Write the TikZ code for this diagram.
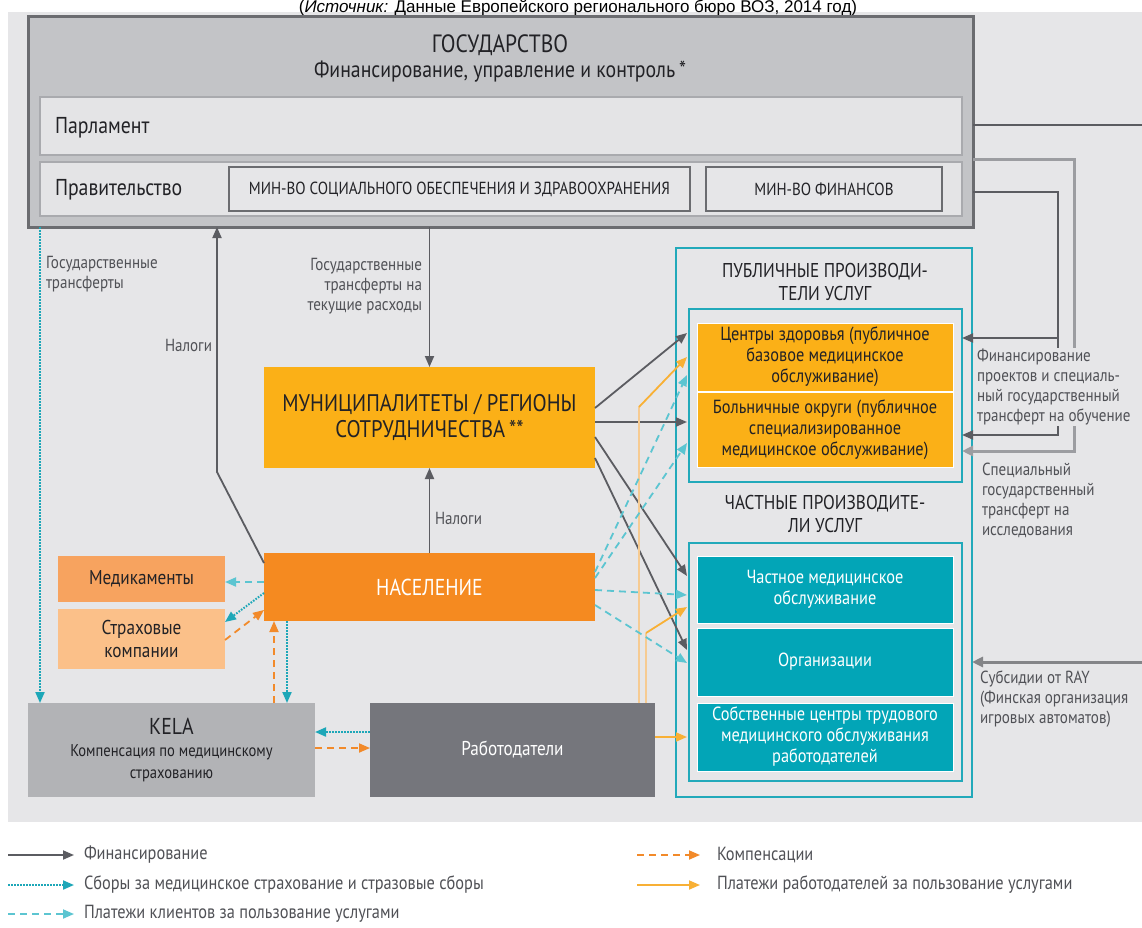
\documentclass[tikz,border=0pt]{standalone}
\usepackage{fontspec}
\setmainfont[FakeStretch=0.86]{PT Sans}
\newfontfamily\srcfont{Liberation Sans}
\usetikzlibrary{arrows.meta}

\definecolor{bggray}{HTML}{E6E6E8}
\definecolor{stfill}{HTML}{C3C4C7}
\definecolor{stline}{HTML}{6B6C70}
\definecolor{infill}{HTML}{E4E4E6}
\definecolor{inline}{HTML}{A9AAAE}
\definecolor{gold}{HTML}{FBB017}
\definecolor{popor}{HTML}{F58A20}
\definecolor{medor}{HTML}{F7A35F}
\definecolor{insor}{HTML}{FBC089}
\definecolor{kelagray}{HTML}{B2B3B6}
\definecolor{empgray}{HTML}{75767C}
\definecolor{tealbox}{HTML}{02A5B7}
\definecolor{tealline}{HTML}{22A9BA}
\definecolor{fincol}{HTML}{5B5C61}
\definecolor{feecol}{HTML}{1DA7B8}
\definecolor{clicol}{HTML}{5CC5D1}
\definecolor{compcol}{HTML}{F28A2A}
\definecolor{empcol}{HTML}{F8B035}
\definecolor{emppale}{HTML}{F6CB92}
\definecolor{txtcol}{HTML}{222226}
\definecolor{lblcol}{HTML}{505156}
\definecolor{sidegray}{HTML}{9C9DA1}

\newcommand\setsz[2]{\fontsize{#1}{#2}\selectfont}

\begin{document}
\begin{tikzpicture}[x=1pt,y=-1pt,
  every node/.style={inner sep=0pt,outer sep=0pt,text=txtcol,font=\setsz{19}{21}},
  blk/.style={anchor=north west,align=center,fill=#1},
  pbox/.style={blk=#1,minimum width=256pt,draw=white,line width=0.8pt},
  stbox/.style={anchor=north west,draw=stline,line width=3pt,fill=stfill},
  inbox/.style={anchor=north west,draw=inline,line width=2pt,fill=infill},
  minbox/.style={anchor=north west,draw=stline,line width=1.2pt,fill=bggray,font=\setsz{17.5}{19}},
  tealframe/.style={anchor=north west,draw=tealline,line width=1.6pt},
  hdtxt/.style={align=center,font=\setsz{20}{23}},
  bigtxt/.style={font=\setsz{23}{26}},
  lbl/.style={text=lblcol,font=\setsz{17.5}{20}},
  lgd/.style={anchor=west,text=lblcol,font=\setsz{19}{20}},
  arrowhd/.style={-{Triangle[length=11pt,width=9pt]}},
  fin/.style={draw=fincol,line width=1.8pt,arrowhd},
  fee/.style={draw=feecol,line width=2pt,dash pattern=on 1.6pt off 1.4pt,arrowhd},
  cli/.style={draw=clicol,line width=1.8pt,dash pattern=on 7pt off 5pt,arrowhd},
  comp/.style={draw=compcol,line width=1.8pt,dash pattern=on 7pt off 5pt,arrowhd},
  emp/.style={draw=empcol,line width=1.8pt,arrowhd},
  sideln/.style={draw=sidegray,line width=3pt,-{Triangle[length=11pt,width=10pt]}},
]
\useasboundingbox (0,0) rectangle (1142,928);
\fill[white] (0,0) rectangle (1142,928);
\fill[bggray] (8,12) rectangle (1142,822);
\node[anchor=base,text=black,font=\srcfont\setsz{17}{18}] (srcline) at (578,13)
  {(\textit{Источник:} Данные Европейского регионального бюро ВОЗ, 2014 год)};

% state
\node[stbox,minimum width=945pt,minimum height=210pt] (state) at (28,17) {};
\node[align=center,font=\setsz{23}{25}] (stttl) at (500,58)
  {{\setsz{25}{25}ГОСУДАРСТВО}\\Финансирование, управление и контроль\,*};
\node[inbox,minimum width=922pt,minimum height=58pt] (parl) at (40,97) {};
\node[bigtxt,anchor=west] (parltxt) at (55,128) {Парламент};
\node[inbox,minimum width=922pt,minimum height=54pt] (gov) at (40,162) {};
\node[bigtxt,anchor=west] (govtxt) at (55,190) {Правительство};
\node[minbox,minimum width=461pt,minimum height=44pt] (minsoc) at (229,167)
  {МИН-ВО СОЦИАЛЬНОГО ОБЕСПЕЧЕНИЯ И ЗДРАВООХРАНЕНИЯ};
\node[minbox,minimum width=236pt,minimum height=44pt] (minfin) at (706,167) {МИН-ВО ФИНАНСОВ};

% payers
\node[blk=gold,minimum width=331pt,minimum height=101pt,font=\setsz{24}{26}] (muni) at (264,367)
  {МУНИЦИПАЛИТЕТЫ / РЕГИОНЫ\\СОТРУДНИЧЕСТВА\,**};
\node[blk=popor,text=white,minimum width=331pt,minimum height=68pt,font=\setsz{23}{25}] (pop) at (264,553) {НАСЕЛЕНИЕ};
\node[blk=medor,minimum width=167pt,minimum height=46pt,font=\setsz{20}{22}] (meds) at (58,556) {Медикаменты};
\node[blk=insor,minimum width=167pt,minimum height=60pt,font=\setsz{20}{23}] (ins) at (58,609) {Страховые\\компании};
\node[blk=kelagray,minimum width=287pt,minimum height=94pt,font=\setsz{17}{22}] (kela) at (28,703)
  {{\setsz{23}{22}KELA}\\Компенсация по медицинскому\\страхованию};
\node[blk=empgray,text=white,minimum width=285pt,minimum height=94pt,font=\setsz{20}{22}] (empl) at (370,703) {Работодатели};

% providers
\node[tealframe,minimum width=296pt,minimum height=549pt] (provout) at (676,248) {};
\node[hdtxt] (pubttl) at (825,282) {ПУБЛИЧНЫЕ ПРОИЗВОДИ-\\ТЕЛИ УСЛУГ};
\node[tealframe,minimum width=273pt,minimum height=173pt] (pubin) at (689,309) {};
\node[pbox=gold,minimum height=68pt] (hc) at (697,323)
  {Центры здоровья (публичное\\базовое медицинское\\обслуживание)};
\node[pbox=gold,minimum height=75pt] (hd) at (697,392)
  {Больничные округи (публичное\\специализированное\\медицинское обслуживание)};
\node[hdtxt] (privttl) at (825,514) {ЧАСТНЫЕ ПРОИЗВОДИТЕ-\\ЛИ УСЛУГ};
\node[tealframe,minimum width=273pt,minimum height=238pt] (privin) at (689,543) {};
\node[pbox=tealbox,text=white,minimum height=67pt] (priv) at (697,556) {Частное медицинское\\обслуживание};
\node[pbox=tealbox,text=white,minimum height=68pt] (org) at (697,628) {Организации};
\node[pbox=tealbox,text=white,minimum height=68pt] (occ) at (697,703)
  {Собственные центры трудового\\медицинского обслуживания\\работодателей};

% state flows
\coordinate (taxbend) at (217,472);
\draw[fee] ([xshift=12pt]state.south west) -- ([xshift=12pt]kela.north west);
\draw[fin] ([yshift=-10pt]pop.north west) -- (taxbend) -- (taxbend |- state.south);
\draw[fin] (state.south -| muni.north) -- (muni.north);
\draw[fin] (pop.north) -- (muni.south);

% municipalities to providers
\draw[fin] ([yshift=9.5pt]muni.east) -- ([xshift=-2pt,yshift=62.5pt]pubin.west);
\draw[fin] ([yshift=-4.5pt]muni.east) -- ([xshift=-2pt,yshift=-26.5pt]pubin.west);
\draw[fin] ([yshift=-19.5pt]muni.east) -- ([xshift=-2pt,yshift=86pt]privin.west);
\draw[fin] ([yshift=-40.5pt]muni.east) -- ([xshift=-2pt,yshift=12pt]privin.west);

% employers
\coordinate (empup1) at (639,407);
\coordinate (empup2) at (646,633);
\coordinate (occin) at ([yshift=13pt]empl.east);
\draw[emppale,line width=1.6pt] (empl.north -| empup1) -- (empup1);
\draw[emppale,line width=1.6pt] (empl.north -| empup2) -- (empup2);
\draw[emp] (empup1) -- ([xshift=-2pt,yshift=38.5pt]pubin.west);
\draw[emp] (empup2) -- ([xshift=-2pt,yshift=55pt]privin.west);
\draw[emp] (occin) -- ([xshift=-2pt]occin -| privin.west);

% clients
\draw[cli] ([yshift=15pt]pop.east) -- ([xshift=-2pt,yshift=20.5pt]pubin.west);
\draw[cli] ([yshift=9pt]pop.east) -- ([xshift=-2pt,yshift=-47.5pt]pubin.west);
\draw[cli] ([yshift=-3pt]pop.east) -- ([xshift=-2pt,yshift=67pt]privin.west);
\draw[cli] ([yshift=-18pt]pop.east) -- ([xshift=-2pt,yshift=-1pt]privin.west);
\coordinate (medout) at ([yshift=5pt]pop.west);
\draw[cli] (medout) -- (medout -| meds.east);
\draw[fee] ([yshift=-6pt]pop.west) -- ([yshift=17pt]ins.east);
\draw[comp] ([yshift=-1pt]ins.east) -- ([yshift=-23pt]pop.west);
\coordinate (kelaup) at ([xshift=246pt]kela.north west);
\coordinate (kelain) at ([xshift=23pt]pop.south west);
\draw[comp] (kelaup) -- (kelaup |- pop.south);
\draw[fee] (kelain) -- (kelain |- kela.north);
\coordinate (empfee) at ([yshift=18pt]empl.west);
\coordinate (kelacomp) at ([yshift=2pt]kela.east);
\draw[fee] (empfee) -- (empfee -| kela.east);
\draw[comp] (kelacomp) -- (kelacomp -| empl.west);

% right side
\coordinate (parlout) at (1142,125);
\coordinate (resbend) at (1074,160);
\coordinate (edubend) at (1058,192);
\coordinate (rayin) at (1142,662);
\draw[fincol,line width=1.6pt] (state.east |- parlout) -- (parlout);
\draw[sideln] (state.east |- resbend) -- (resbend) |- ([yshift=-55.5pt]pubin.east);
\draw[fin] (state.east |- edubend) -- (edubend) |- ([yshift=57.5pt]pubin.east);
\draw[fin] (edubend) |- ([yshift=-39.5pt]pubin.east);
\draw[sideln,draw=fincol!75] (rayin) -- (rayin -| provout.east);

% labels
\node[lbl,align=left,anchor=west] (gtleft) at (46,274) {Государственные\\трансферты};
\node[lbl,align=right,anchor=east] (gtcur) at (422,286) {Государственные\\трансферты на\\текущие расходы};
\node[lbl,anchor=east] (taxlbl1) at (212,345) {Налоги};
\node[lbl,anchor=west] (taxlbl2) at (435,518) {Налоги};
\node[lbl,align=left,anchor=west,fill=bggray,inner sep=1pt] (edulbl) at (976,387)
  {Финансирование\\проектов и специаль-\\ный государственный\\трансферт на обучение};
\node[lbl,align=left,anchor=west] (reslbl) at (982,500) {Специальный\\государственный\\трансферт на\\исследования};
\node[lbl,align=left,anchor=west] (raylbl) at (980,699) {Субсидии от RAY\\(Финская организация\\игровых автоматов)};

% legend
\node[lgd] (lgfin) at (84,855) {Финансирование};
\node[lgd] (lgfee) at (84,885) {Сборы за медицинское страхование и стразовые сборы};
\node[lgd] (lgcli) at (84,914) {Платежи клиентов за пользование услугами};
\node[lgd] (lgcomp) at (717,855) {Компенсации};
\node[lgd] (lgemp) at (717,885) {Платежи работодателей за пользование услугами};
\coordinate (lga) at (8,855);
\coordinate (lgb) at (8,885);
\coordinate (lgc) at (8,914);
\coordinate (lgd1) at (637,855);
\coordinate (lge) at (637,885);
\draw[fin] (lga) -- ([xshift=-10pt]lgfin.west);
\draw[fee] (lgb) -- ([xshift=-10pt]lgfee.west);
\draw[cli] (lgc) -- ([xshift=-10pt]lgcli.west);
\draw[comp] (lgd1) -- ([xshift=-17pt]lgcomp.west);
\draw[emp] (lge) -- ([xshift=-17pt]lgemp.west);
\end{tikzpicture}
\end{document}
